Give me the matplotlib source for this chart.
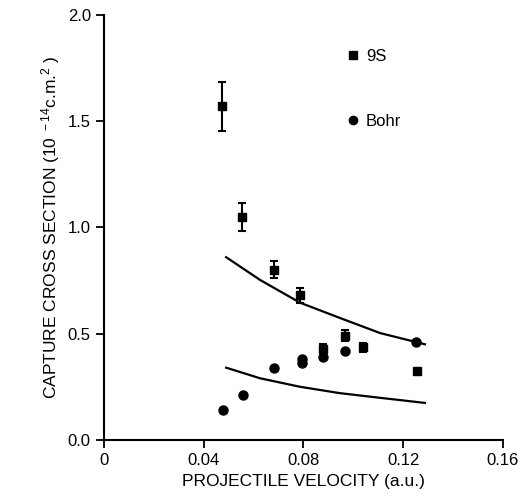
import matplotlib
matplotlib.use('Agg')
import matplotlib.pyplot as plt
from matplotlib.lines import Line2D

plt.rcParams['font.family'] = ['Liberation Sans', 'DejaVu Sans']
plt.rcParams['mathtext.default'] = 'regular'

# experimental points (squares with error bars)
v_exp = [0.0473, 0.0553, 0.068, 0.0786, 0.088, 0.0966, 0.104, 0.1255]
sig_exp = [1.57, 1.05, 0.80, 0.68, 0.43, 0.49, 0.435, 0.325]
err_exp = [0.115, 0.065, 0.04, 0.035, 0.02, 0.025, 0.02, 0.015]

# Bohr estimates (circles)
v_bohr = [0.0477, 0.0557, 0.068, 0.0794, 0.0794, 0.088, 0.0966, 0.125]
sig_bohr = [0.14, 0.21, 0.34, 0.36, 0.38, 0.39, 0.42, 0.46]

# theory curves
v_curve = [0.049, 0.0626, 0.0786, 0.0946, 0.1107, 0.1287]
sig_upper = [0.86, 0.753, 0.646, 0.574, 0.503, 0.45]
sig_lower = [0.34, 0.29, 0.25, 0.22, 0.198, 0.174]

fig = plt.figure(figsize=(5.25, 5.01), dpi=100)
ax = fig.add_axes([0.198, 0.122, 0.76, 0.848])

ax.plot(v_curve, sig_upper, color='black', lw=1.6)
ax.plot(v_curve, sig_lower, color='black', lw=1.6)
ax.errorbar(v_exp, sig_exp, yerr=err_exp, fmt='s', color='black', ms=6,
            elinewidth=1.5, capsize=3, capthick=1.5)
ax.plot(v_bohr, sig_bohr, 'o', color='black', ms=6.5)

ax.set_xlim(0, 0.16)
ax.set_ylim(0, 2.0)
ax.set_xticks([0, 0.04, 0.08, 0.12, 0.16])
ax.set_xticklabels(['0', '0.04', '0.08', '0.12', '0.16'])
ax.set_yticks([0, 0.5, 1.0, 1.5, 2.0])
ax.set_yticklabels(['0.0', '0.5', '1.0', '1.5', '2.0'])
ax.tick_params(direction='out', length=6, width=1.3, labelsize=12)
for s in ['top', 'right']:
    ax.spines[s].set_visible(False)
for s in ['left', 'bottom']:
    ax.spines[s].set_linewidth(1.5)

ax.set_xlabel('PROJECTILE VELOCITY (a.u.)', fontsize=12.5)
ax.set_ylabel('CAPTURE CROSS SECTION (10$^{\\ -14}$c.m.$^{2}$ )', fontsize=12.5)

handles = [Line2D([], [], marker='s', color='black', ls='none', ms=6),
           Line2D([], [], marker='o', color='black', ls='none', ms=6)]
ax.legend(handles, ['9S', 'Bohr'], frameon=False, fontsize=12,
          loc='upper left', bbox_to_anchor=(0.565, 0.955), labelspacing=3.0,
          handletextpad=0.3, handlelength=1.0)

fig.savefig('out.png', dpi=100)
